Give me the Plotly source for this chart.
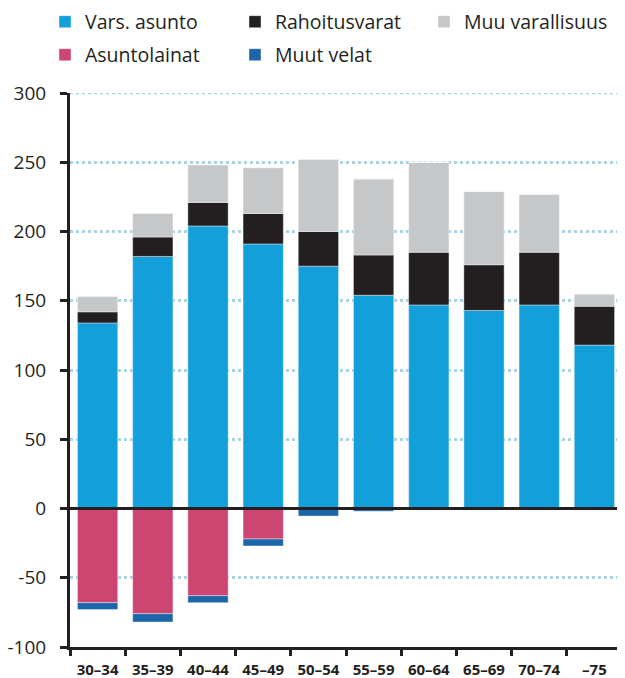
import plotly.graph_objects as go

ages = ["30–34", "35–39", "40–44", "45–49", "50–54", "55–59", "60–64", "65–69", "70–74", "–75"]

vars_asunto = [134, 182, 204, 191, 175, 154, 147, 143, 147, 118]
rahoitusvarat = [8, 14, 17, 22, 25, 29, 38, 33, 38, 28]
muu_varallisuus = [11, 17, 27, 33, 52, 55, 65, 53, 42, 9]
asuntolainat = [-68, -76, -63, -22, -0.5, 0, 0, 0, 0, 0]
muut_velat = [-5, -6, -5, -5, -5, -2, 0, 0, 0, 0]

y_ticks = [-100, -50, 0, 50, 100, 150, 200, 250, 300]
y_labels = ["-100", "-50", "0", "50", "100", "150", "200", "250", "300"]

series = [
    ("Vars. asunto", vars_asunto, "#139fda"),
    ("Rahoitusvarat", rahoitusvarat, "#231f20"),
    ("Muu varallisuus", muu_varallisuus, "#c6c7c9"),
    ("Asuntolainat", asuntolainat, "#cd4672"),
    ("Muut velat", muut_velat, "#1c65a9"),
]

W, H = 617, 670

# each legend entry gets its own small legend, laid out as a 3 + 2 grid
legend_pos = [(37, 14), (227, 14), (416, 14), (37, 47), (227, 47)]

fig = go.Figure()
legends = {}
for i, (name, vals, col) in enumerate(series):
    key = "legend" if i == 0 else "legend%d" % (i + 1)
    fig.add_trace(go.Bar(
        x=ages, y=vals, name=name, legend=key, showlegend=True,
        marker=dict(color=col, line=dict(color="rgba(255,255,255,0.5)", width=0.8)),
    ))
    lx, ly = legend_pos[i]
    legends[key] = dict(
        orientation="h", xref="container", yref="container",
        x=lx / W, y=1 - ly / H, xanchor="left", yanchor="middle",
        font=dict(size=19.5), bgcolor="rgba(0,0,0,0)",
    )

# top gridline (hidden by plotly at the range edge) and the bold zero line
fig.add_shape(type="line", xref="paper", yref="y", x0=0, x1=1, y0=300, y1=300,
              line=dict(color="#a9d4e6", width=2.5, dash="dot"), layer="below")
fig.add_shape(type="line", xref="paper", yref="y", x0=0, x1=1, y0=0, y1=0,
              line=dict(color="#231f20", width=3), layer="above")

fig.update_layout(
    width=W, height=H, showlegend=True,
    barmode="relative", bargap=0.27,
    plot_bgcolor="white", paper_bgcolor="white",
    margin=dict(l=62, r=3, t=85, b=31, autoexpand=False),
    font=dict(family="Open Sans", color="#231f20"),
    xaxis=dict(
        showline=True, linecolor="#231f20", linewidth=3,
        ticks="outside", tickson="boundaries", ticklen=6, tickwidth=3,
        tickcolor="#231f20", tickangle=0,
        tickfont=dict(size=15, family="Open Sans", weight="bold"),
        ticklabelstandoff=7,
        showgrid=False,
    ),
    yaxis=dict(
        range=[-100, 300], tickvals=y_ticks, ticktext=y_labels,
        showline=True, linecolor="#231f20", linewidth=3,
        ticks="outside", ticklen=7, tickwidth=3, tickcolor="#231f20",
        tickfont=dict(size=19), ticklabelstandoff=10,
        showgrid=True, gridcolor="#a9d4e6", griddash="dot", gridwidth=2.5,
        zeroline=False,
    ),
)
fig.update_layout(**legends)

fig.write_html("out.html")
